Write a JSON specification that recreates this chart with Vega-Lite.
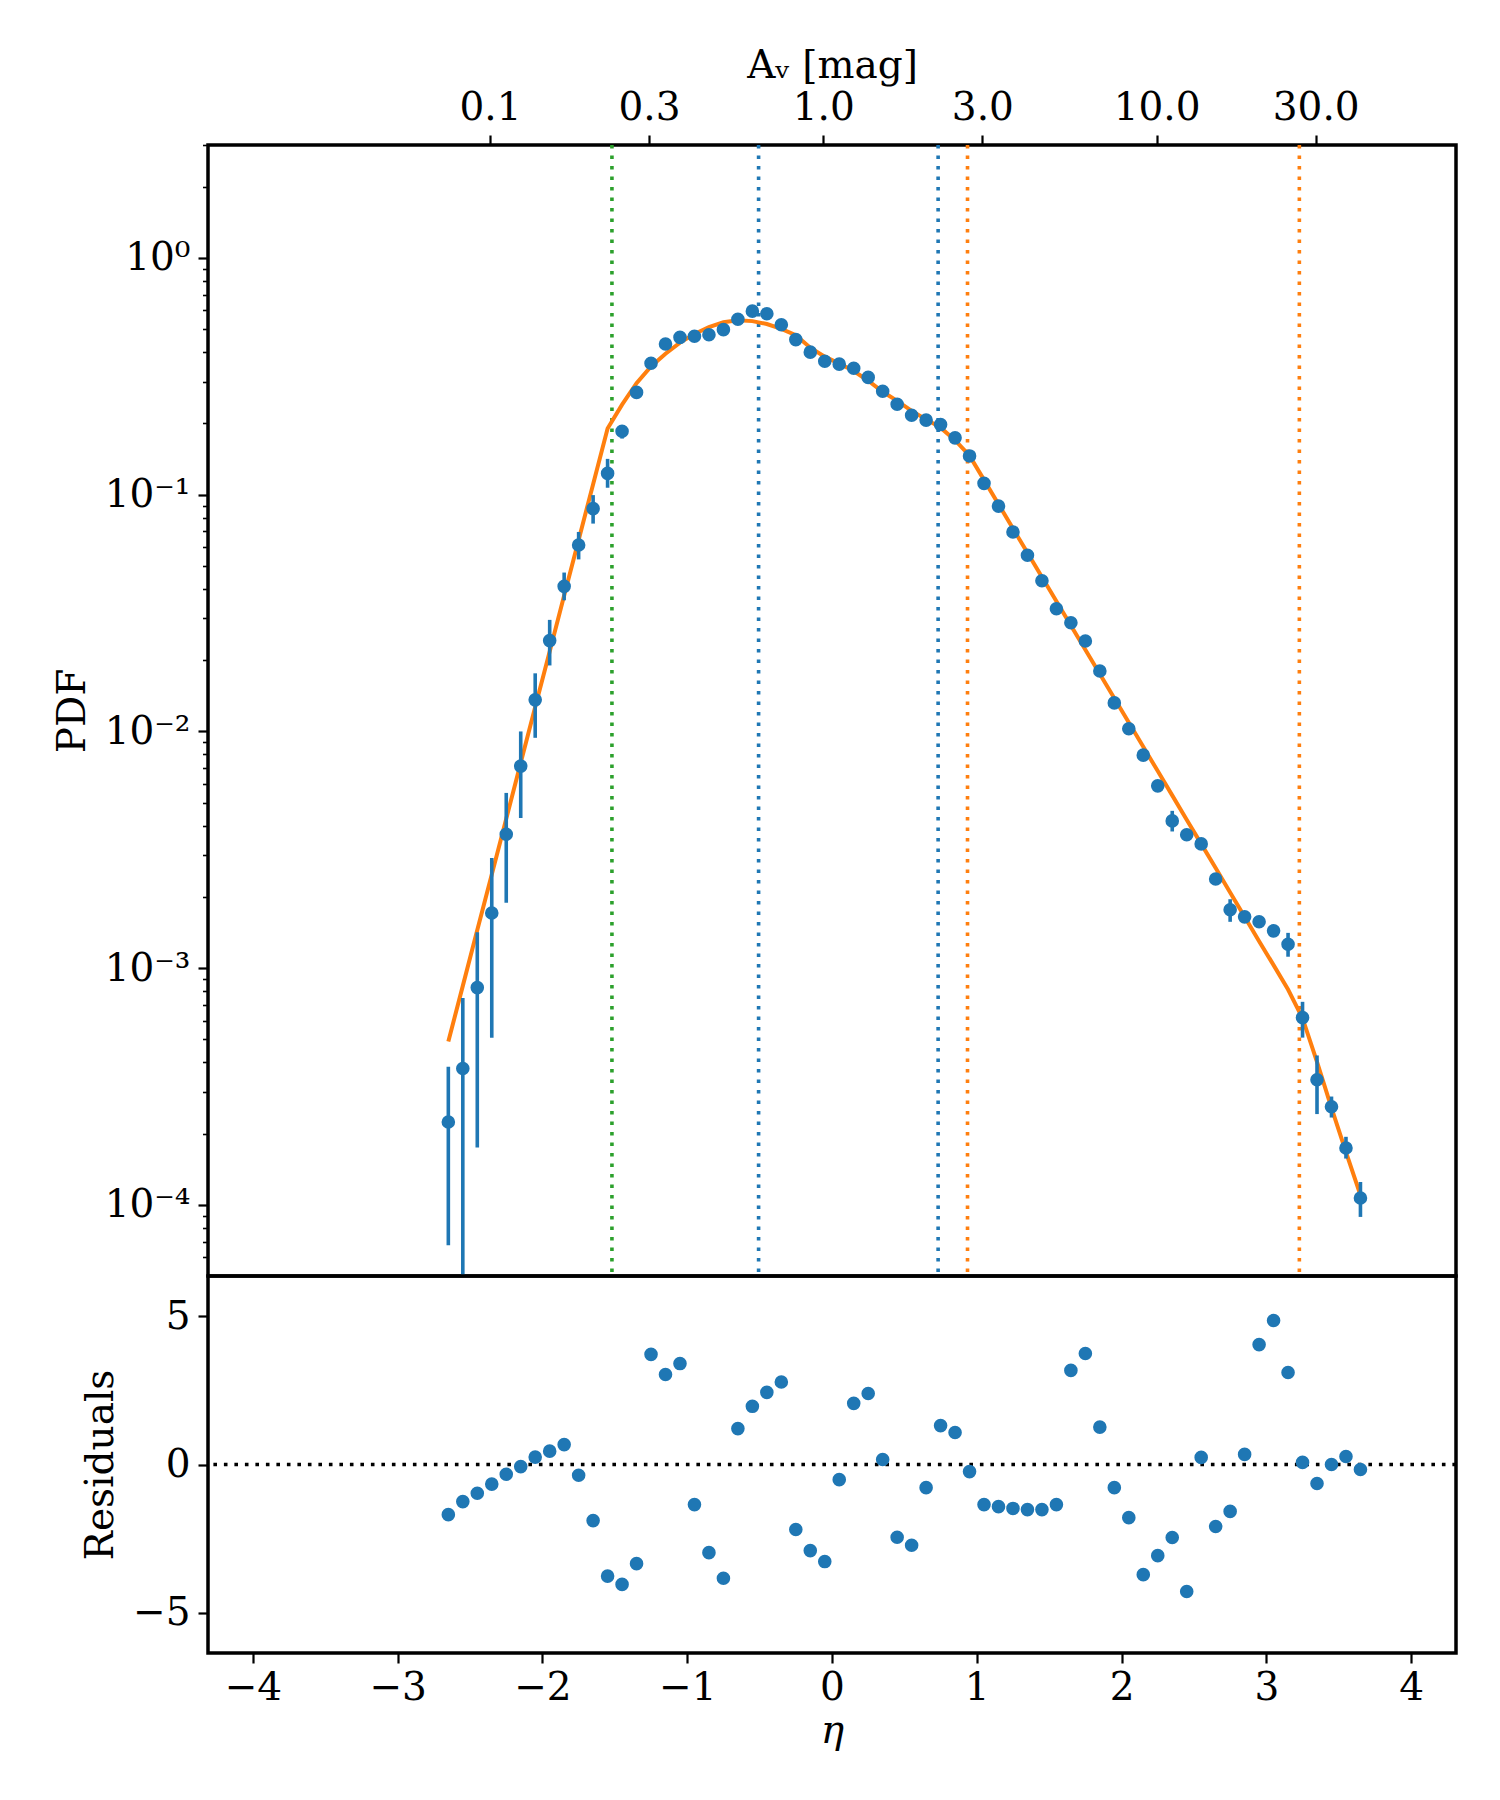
{
  "$schema": "https://vega.github.io/schema/vega-lite/v6.json",
  "background": "white",
  "padding": {"left": 51, "top": 44, "right": 5, "bottom": 5},
  "config": {
    "font": "DejaVu Serif",
    "view": {"stroke": "black", "strokeWidth": 3.5},
    "axis": {
      "labelFont": "DejaVu Serif", "labelFontSize": 39, "labelColor": "black",
      "titleFont": "DejaVu Serif", "titleFontSize": 39, "titleFontWeight": "normal", "titleColor": "black",
      "tickColor": "black", "tickWidth": 2.2, "tickSize": 10, "domain": false, "grid": false,
      "labelPadding": 8, "labelOverlap": false, "labelFlush": false
    }
  },
  "datasets": {
    "pts": [
      {"eta": -2.65, "pdf": 0.000224, "lo": 0.0000676, "hi": 0.000383, "model": 0.00049, "res": -1.69},
      {"eta": -2.55, "pdf": 0.000377, "lo": 0.000001, "hi": 0.000748, "model": 0.000842, "res": -1.25},
      {"eta": -2.45, "pdf": 0.000828, "lo": 0.000175, "hi": 0.00142, "model": 0.001449, "res": -0.97},
      {"eta": -2.35, "pdf": 0.00171, "lo": 0.000509, "hi": 0.00292, "model": 0.00249, "res": -0.66},
      {"eta": -2.25, "pdf": 0.00368, "lo": 0.00189, "hi": 0.0055, "model": 0.00428, "res": -0.33},
      {"eta": -2.15, "pdf": 0.00714, "lo": 0.00431, "hi": 0.01, "model": 0.00737, "res": -0.07},
      {"eta": -2.05, "pdf": 0.0136, "lo": 0.0094, "hi": 0.0176, "model": 0.01267, "res": 0.25},
      {"eta": -1.95, "pdf": 0.0242, "lo": 0.019, "hi": 0.0296, "model": 0.02178, "res": 0.45},
      {"eta": -1.85, "pdf": 0.041, "lo": 0.0358, "hi": 0.0469, "model": 0.0375, "res": 0.67},
      {"eta": -1.75, "pdf": 0.0613, "lo": 0.0533, "hi": 0.0696, "model": 0.0644, "res": -0.36},
      {"eta": -1.65, "pdf": 0.0873, "lo": 0.0755, "hi": 0.0996, "model": 0.1108, "res": -1.89},
      {"eta": -1.55, "pdf": 0.123, "lo": 0.107, "hi": 0.1417, "model": 0.1905, "res": -3.76},
      {"eta": -1.45, "pdf": 0.1854, "lo": 0.1726, "hi": 0.196, "model": 0.24, "res": -4.04},
      {"eta": -1.35, "pdf": 0.2704, "lo": 0.263, "hi": 0.278, "model": 0.296, "res": -3.34},
      {"eta": -1.25, "pdf": 0.359, "lo": 0.354, "hi": 0.364, "model": 0.348, "res": 3.71},
      {"eta": -1.15, "pdf": 0.433, "lo": 0.427, "hi": 0.439, "model": 0.394, "res": 3.03},
      {"eta": -1.05, "pdf": 0.462, "lo": 0.456, "hi": 0.468, "model": 0.439, "res": 3.4},
      {"eta": -0.95, "pdf": 0.467, "lo": 0.461, "hi": 0.473, "model": 0.477, "res": -1.35},
      {"eta": -0.85, "pdf": 0.474, "lo": 0.468, "hi": 0.48, "model": 0.511, "res": -2.97},
      {"eta": -0.75, "pdf": 0.498, "lo": 0.492, "hi": 0.504, "model": 0.535, "res": -3.83},
      {"eta": -0.65, "pdf": 0.551, "lo": 0.545, "hi": 0.557, "model": 0.545, "res": 1.21},
      {"eta": -0.55, "pdf": 0.596, "lo": 0.589, "hi": 0.603, "model": 0.541, "res": 1.96},
      {"eta": -0.45, "pdf": 0.581, "lo": 0.574, "hi": 0.588, "model": 0.526, "res": 2.43},
      {"eta": -0.35, "pdf": 0.522, "lo": 0.516, "hi": 0.528, "model": 0.502, "res": 2.78},
      {"eta": -0.25, "pdf": 0.452, "lo": 0.447, "hi": 0.457, "model": 0.472, "res": -2.19},
      {"eta": -0.15, "pdf": 0.4, "lo": 0.395, "hi": 0.405, "model": 0.418, "res": -2.9},
      {"eta": -0.05, "pdf": 0.366, "lo": 0.362, "hi": 0.37, "model": 0.383, "res": -3.27},
      {"eta": 0.05, "pdf": 0.356, "lo": 0.352, "hi": 0.36, "model": 0.358, "res": -0.51},
      {"eta": 0.15, "pdf": 0.342, "lo": 0.338, "hi": 0.346, "model": 0.333, "res": 2.06},
      {"eta": 0.25, "pdf": 0.313, "lo": 0.309, "hi": 0.317, "model": 0.303, "res": 2.39},
      {"eta": 0.35, "pdf": 0.2734, "lo": 0.27, "hi": 0.277, "model": 0.272, "res": 0.17},
      {"eta": 0.45, "pdf": 0.241, "lo": 0.238, "hi": 0.244, "model": 0.249, "res": -2.45},
      {"eta": 0.55, "pdf": 0.2165, "lo": 0.214, "hi": 0.219, "model": 0.226, "res": -2.72},
      {"eta": 0.65, "pdf": 0.2066, "lo": 0.204, "hi": 0.209, "model": 0.208, "res": -0.78},
      {"eta": 0.75, "pdf": 0.1978, "lo": 0.195, "hi": 0.2005, "model": 0.192, "res": 1.31},
      {"eta": 0.85, "pdf": 0.1738, "lo": 0.1715, "hi": 0.176, "model": 0.17, "res": 1.08},
      {"eta": 0.95, "pdf": 0.1458, "lo": 0.1438, "hi": 0.1478, "model": 0.1462, "res": -0.24},
      {"eta": 1.05, "pdf": 0.1117, "lo": 0.1101, "hi": 0.1133, "model": 0.1155, "res": -1.35},
      {"eta": 1.15, "pdf": 0.0895, "lo": 0.0882, "hi": 0.0908, "model": 0.0912, "res": -1.42},
      {"eta": 1.25, "pdf": 0.0696, "lo": 0.0686, "hi": 0.0706, "model": 0.072, "res": -1.48},
      {"eta": 1.35, "pdf": 0.0555, "lo": 0.0547, "hi": 0.0563, "model": 0.0569, "res": -1.52},
      {"eta": 1.45, "pdf": 0.0433, "lo": 0.0426, "hi": 0.044, "model": 0.0449, "res": -1.52},
      {"eta": 1.55, "pdf": 0.033, "lo": 0.0325, "hi": 0.0335, "model": 0.0355, "res": -1.35},
      {"eta": 1.65, "pdf": 0.0288, "lo": 0.0283, "hi": 0.0293, "model": 0.028, "res": 3.17},
      {"eta": 1.75, "pdf": 0.0241, "lo": 0.0237, "hi": 0.0245, "model": 0.02213, "res": 3.74},
      {"eta": 1.85, "pdf": 0.018, "lo": 0.0177, "hi": 0.0183, "model": 0.01748, "res": 1.26},
      {"eta": 1.95, "pdf": 0.0132, "lo": 0.0129, "hi": 0.0135, "model": 0.0138, "res": -0.78},
      {"eta": 2.05, "pdf": 0.01026, "lo": 0.01, "hi": 0.0105, "model": 0.0109, "res": -1.79},
      {"eta": 2.15, "pdf": 0.00794, "lo": 0.00775, "hi": 0.00813, "model": 0.00861, "res": -3.71},
      {"eta": 2.25, "pdf": 0.00589, "lo": 0.00572, "hi": 0.00606, "model": 0.0068, "res": -3.07},
      {"eta": 2.35, "pdf": 0.00419, "lo": 0.00378, "hi": 0.00462, "model": 0.00537, "res": -2.46},
      {"eta": 2.45, "pdf": 0.00366, "lo": 0.00355, "hi": 0.00377, "model": 0.00424, "res": -4.28},
      {"eta": 2.55, "pdf": 0.00335, "lo": 0.00325, "hi": 0.00345, "model": 0.00335, "res": 0.24},
      {"eta": 2.65, "pdf": 0.00238, "lo": 0.0023, "hi": 0.00246, "model": 0.00265, "res": -2.09},
      {"eta": 2.75, "pdf": 0.001766, "lo": 0.00157, "hi": 0.001956, "model": 0.00209, "res": -1.58},
      {"eta": 2.85, "pdf": 0.001648, "lo": 0.00158, "hi": 0.00172, "model": 0.00165, "res": 0.34},
      {"eta": 2.95, "pdf": 0.001571, "lo": 0.0015, "hi": 0.00164, "model": 0.0013, "res": 4.04},
      {"eta": 3.05, "pdf": 0.001438, "lo": 0.00137, "hi": 0.00151, "model": 0.00103, "res": 4.85},
      {"eta": 3.15, "pdf": 0.001262, "lo": 0.001118, "hi": 0.00141, "model": 0.000813, "res": 3.1},
      {"eta": 3.25, "pdf": 0.000618, "lo": 0.000509, "hi": 0.000721, "model": 0.000615, "res": 0.07},
      {"eta": 3.35, "pdf": 0.000338, "lo": 0.000242, "hi": 0.000428, "model": 0.000402, "res": -0.64},
      {"eta": 3.45, "pdf": 0.00026, "lo": 0.000234, "hi": 0.000287, "model": 0.000257, "res": 0.0},
      {"eta": 3.55, "pdf": 0.000174, "lo": 0.000157, "hi": 0.000194, "model": 0.000167, "res": 0.27},
      {"eta": 3.65, "pdf": 0.000107, "lo": 0.000089, "hi": 0.000125, "model": 0.00011, "res": -0.17}
    ],
    "vlines": [
      {"eta": -1.52, "c": "#2ca02c"},
      {"eta": -0.507, "c": "#1f77b4"},
      {"eta": 0.733, "c": "#1f77b4"},
      {"eta": 0.936, "c": "#ff7f0e"},
      {"eta": 3.228, "c": "#ff7f0e"}
    ]
  },
  "spacing": 0,
  "bounds": "flush",
  "vconcat": [
    {
      "width": 1248,
      "height": 1131,
      "layer": [
        {
          "layer": [
            {
              "data": {"name": "vlines"},
              "mark": {"type": "rule", "strokeWidth": 3.6, "strokeDash": [3.6, 6.9]},
              "encoding": {
                "x": {"field": "eta", "type": "quantitative", "scale": {"domain": [-4.31, 4.31], "nice": false, "zero": false}, "axis": null},
                "color": {"field": "c", "type": "nominal", "scale": null}
              }
            },
            {
              "data": {"name": "pts"},
              "mark": {"type": "line", "color": "#ff7f0e", "strokeWidth": 4, "clip": true},
              "encoding": {
                "x": {"field": "eta", "type": "quantitative", "scale": {"domain": [-4.31, 4.31], "nice": false, "zero": false}, "axis": null},
                "y": {"field": "model", "type": "quantitative", "scale": {"type": "log", "domain": [0.0000501, 3.0], "nice": false}}
              }
            },
            {
              "data": {"name": "pts"},
              "mark": {"type": "rule", "color": "#1f77b4", "strokeWidth": 3.6, "clip": true},
              "encoding": {
                "x": {"field": "eta", "type": "quantitative", "scale": {"domain": [-4.31, 4.31], "nice": false, "zero": false}, "axis": null},
                "y": {"field": "lo", "type": "quantitative", "scale": {"type": "log", "domain": [0.0000501, 3.0], "nice": false}},
                "y2": {"field": "hi"}
              }
            },
            {
              "data": {"name": "pts"},
              "mark": {"type": "circle", "color": "#1f77b4", "opacity": 1, "size": 185},
              "encoding": {
                "x": {"field": "eta", "type": "quantitative", "scale": {"domain": [-4.31, 4.31], "nice": false, "zero": false}, "axis": null},
                "y": {
                  "field": "pdf", "type": "quantitative",
                  "scale": {"type": "log", "domain": [0.0000501, 3.0], "nice": false},
                  "axis": {
                    "title": "PDF",
                    "values": [0.00006, 0.00007, 0.00008, 0.00009, 0.0001, 0.0002, 0.0003, 0.0004, 0.0005, 0.0006, 0.0007, 0.0008, 0.0009, 0.001, 0.002, 0.003, 0.004, 0.005, 0.006, 0.007, 0.008, 0.009, 0.01, 0.02, 0.03, 0.04, 0.05, 0.06, 0.07, 0.08, 0.09, 0.1, 0.2, 0.3, 0.4, 0.5, 0.6, 0.7, 0.8, 0.9, 1, 2, 3],
                    "labelExpr": "abs(log(datum.value)/LN10 - round(log(datum.value)/LN10)) < 0.000001 ? '10' + ['⁻⁴','⁻³','⁻²','⁻¹','⁰'][round(log(datum.value)/LN10) + 4] : ''",
                    "tickSize": {"condition": {"test": "abs(log(datum.value)/LN10 - round(log(datum.value)/LN10)) < 0.000001", "value": 10}, "value": 5.5},
                    "tickWidth": {"condition": {"test": "abs(log(datum.value)/LN10 - round(log(datum.value)/LN10)) < 0.000001", "value": 2.2}, "value": 1.6},
                    "titlePadding": 12
                  }
                }
              }
            }
          ]
        },
        {
          "data": {"values": [{"av": 1}]},
          "mark": {"type": "point", "opacity": 0},
          "encoding": {
            "x": {
              "field": "av", "type": "quantitative",
              "scale": {"type": "log", "domain": [0.01426, 79.06], "nice": false},
              "axis": {"orient": "top", "values": [0.1, 0.3, 1, 3, 10, 30], "format": ".1f", "title": "Aᵥ [mag]", "titlePadding": 3}
            }
          }
        }
      ],
      "resolve": {"scale": {"x": "independent"}, "axis": {"x": "independent"}}
    },
    {
      "width": 1248,
      "height": 377,
      "layer": [
        {
          "data": {"values": [{"z": 0}]},
          "mark": {"type": "rule", "color": "black", "strokeWidth": 3.6, "strokeDash": [3.6, 6.9]},
          "encoding": {
            "y": {"field": "z", "type": "quantitative", "scale": {"domain": [-6.35, 6.35], "nice": false, "zero": false}}
          }
        },
        {
          "data": {"name": "pts"},
          "mark": {"type": "circle", "color": "#1f77b4", "opacity": 1, "size": 185},
          "encoding": {
            "x": {
              "field": "eta", "type": "quantitative",
              "scale": {"domain": [-4.31, 4.31], "nice": false, "zero": false},
              "axis": {"values": [-4, -3, -2, -1, 0, 1, 2, 3, 4], "format": "d", "title": "η", "titleFontStyle": "italic", "labelPadding": 5, "titlePadding": 4}
            },
            "y": {
              "field": "res", "type": "quantitative",
              "scale": {"domain": [-6.35, 6.35], "nice": false, "zero": false},
              "axis": {"values": [-5, 0, 5], "format": "d", "title": "Residuals", "titlePadding": 12}
            }
          }
        }
      ]
    }
  ]
}
